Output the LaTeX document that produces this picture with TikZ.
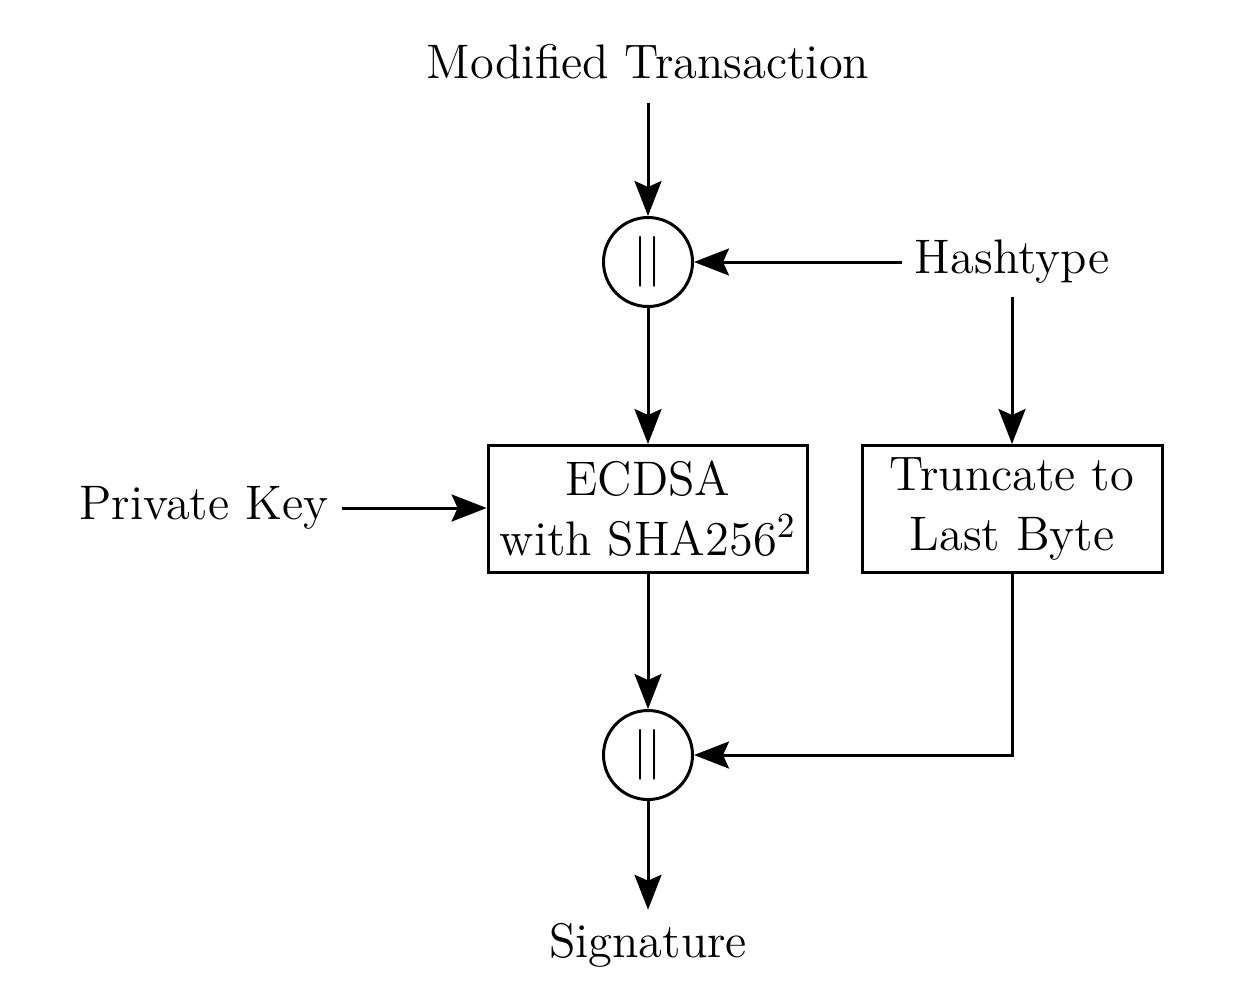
\documentclass[tikz,border=0pt]{standalone}
\usetikzlibrary{arrows.meta}
\begin{document}
\begin{tikzpicture}[font=\fontsize{13.8}{17}\selectfont,
  line width=0.85pt,
  >={Stealth[length=3.5mm,width=2.7mm,inset=0.6mm]},
  block/.style={draw,align=center,minimum height=1.27cm,minimum width=3cm},
  cat/.style={draw,circle,minimum size=0.89cm,inner sep=0pt}]
  \useasboundingbox (0,0) rectangle (12.54,9.86);
  %inputs
  \node (mt) at (6.48,9.24) {Modified Transaction};
  \node (ht) at (10.12,7.24) {Hashtype};
  \node (pk) at (2.04,4.78) {Private Key};
  %concatenations
  \node[cat] (c1) at (6.48,7.24) {$||$};
  \node[cat] (c2) at (6.48,2.31) {$||$};
  %boxes
  \node[block] (ecdsa) at (6.48,4.77) {ECDSA\\with SHA256$^2$};
  \node[block] (trunc) at (10.12,4.77) {Truncate to\\Last Byte};
  %output
  \node (sig) at (6.48,0.41) {Signature};
  %arrows
  \draw[->,shorten <=1mm] (mt) -- (c1);
  \draw[->] (ht) -- (c1);
  \draw[->] (ht) -- (trunc);
  \draw[->] (c1) -- (ecdsa);
  \draw[->] (pk) -- (pk -| ecdsa.west);
  \draw[->] (ecdsa) -- (c2);
  \draw[->] (trunc) |- (c2);
  \draw[->] (c2) -- (sig);
\end{tikzpicture}
\end{document}
